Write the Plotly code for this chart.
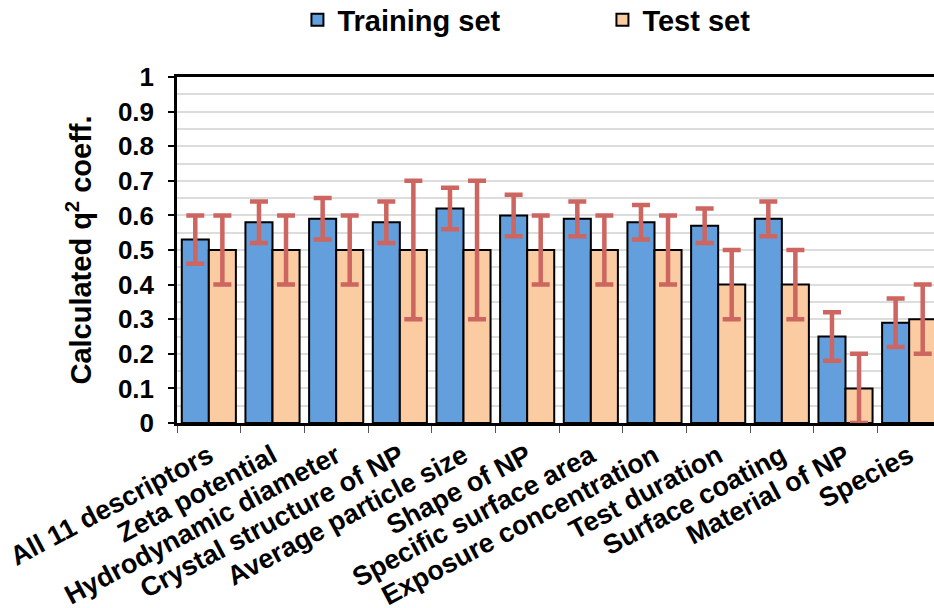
import plotly.graph_objects as go

categories = ["All 11 descriptors", "Zeta potential", "Hydrodynamic diameter",
              "Crystal structure of NP", "Average particle size", "Shape of NP",
              "Specific surface area", "Exposure concentration", "Test duration",
              "Surface coating", "Material of NP", "Species"]
train_vals = [0.53, 0.58, 0.59, 0.58, 0.62, 0.60, 0.59, 0.58, 0.57, 0.59, 0.25, 0.29]
train_err = [0.07, 0.06, 0.06, 0.06, 0.06, 0.06, 0.05, 0.05, 0.05, 0.05, 0.07, 0.07]
test_vals = [0.50, 0.50, 0.50, 0.50, 0.50, 0.50, 0.50, 0.50, 0.40, 0.40, 0.10, 0.30]
test_err = [0.10, 0.10, 0.10, 0.20, 0.20, 0.10, 0.10, 0.10, 0.10, 0.10, 0.10, 0.10]
y_ticks = [0, 0.1, 0.2, 0.3, 0.4, 0.5, 0.6, 0.7, 0.8, 0.9, 1]
y_tick_text = ["0", "0.1", "0.2", "0.3", "0.4", "0.5", "0.6", "0.7", "0.8", "0.9", "1"]

FONT = "Liberation Sans, Arial, sans-serif"
ERR_COLOR = "#CD6560"

fig = go.Figure()
fig.add_trace(go.Bar(
    name="Training set", x=categories, y=train_vals,
    marker=dict(color="#629FDC", line=dict(color="black", width=2)),
    error_y=dict(type="data", array=train_err, visible=True,
                 color=ERR_COLOR, thickness=4.5, width=9),
))
fig.add_trace(go.Bar(
    name="Test set", x=categories, y=test_vals,
    marker=dict(color="#FBCBA2", line=dict(color="black", width=2)),
    error_y=dict(type="data", array=test_err, visible=True,
                 color=ERR_COLOR, thickness=4.5, width=9),
))

fig.update_layout(
    width=934, height=608,
    paper_bgcolor="white", plot_bgcolor="white",
    barmode="group", bargap=0.15, bargroupgap=0,
    margin=dict(l=177, r=0, t=77, b=185, autoexpand=False),
    font=dict(family=FONT, color="black"),
    showlegend=True,
    legend=dict(orientation="h", x=0.562, xanchor="center",
                y=1.165, yref="paper", yanchor="middle",
                font=dict(size=29, family=FONT, weight="bold"),
                entrywidth=260, itemsizing="constant"),
    xaxis=dict(
        range=[-0.5, 11.39], type="category",
        showline=True, linecolor="black", linewidth=2.5, mirror=True,
        ticks="outside", tickson="boundaries", ticklen=7, tickcolor="#555",
        tickangle=-28, automargin=False, ticklabelstandoff=4,
        tickfont=dict(size=27, family=FONT, weight="bold"),
        showgrid=False,
    ),
    yaxis=dict(
        range=[0, 1], tickvals=y_ticks, ticktext=y_tick_text,
        showline=True, linecolor="black", linewidth=2.5,
        ticks="outside", ticklen=6, tickcolor="black", tickwidth=1.5,
        ticklabelstandoff=9,
        tickfont=dict(size=26, family=FONT, weight="bold"),
        showgrid=True, gridcolor="#DCDCDC", gridwidth=1.5,
        minor=dict(dtick=0.05, showgrid=True, gridcolor="#DCDCDC", gridwidth=1.5),
        zeroline=False, automargin=False,
        title=dict(text="Calculated q<sup>2</sup> coeff.", standoff=18,
                   font=dict(size=29, family=FONT, weight="bold")),
    ),
)

fig.write_html("out.html", config={"displayModeBar": False},
               post_script="document.body.style.margin='0';document.body.style.overflow='hidden';")
